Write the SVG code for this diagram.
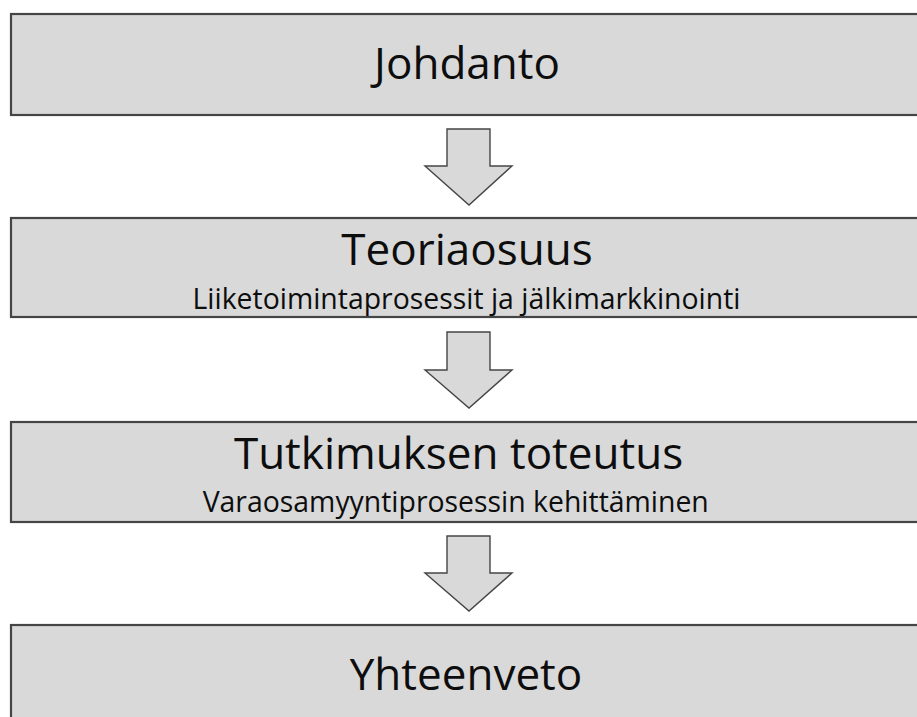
<svg xmlns="http://www.w3.org/2000/svg" width="917" height="717" viewBox="0 0 917 717">
  <style>
    .box { fill: #d9d9d9; stroke: #454545; stroke-width: 2.2; }
    .arrow { fill: #d9d9d9; stroke: #454545; stroke-width: 1.4; stroke-linejoin: miter; }
    .title { font-family: "Open Sans", "Noto Sans", sans-serif; font-size: 44px; fill: #0d0d0d; text-anchor: middle; }
    .sub { font-family: "Open Sans", "Noto Sans", sans-serif; font-size: 28.4px; fill: #0d0d0d; text-anchor: middle; }
  </style>
  <rect width="917" height="717" fill="#ffffff"/>

  <g id="johdanto">
    <rect class="box" x="11" y="14" width="912" height="101"/>
    <text class="title" x="467" y="79">Johdanto</text>
  </g>

  <g id="teoriaosuus">
    <rect class="box" x="11" y="218" width="912" height="99"/>
    <text class="title" x="467" y="265">Teoriaosuus</text>
    <text class="sub" x="466.5" y="309">Liiketoimintaprosessit ja jälkimarkkinointi</text>
  </g>

  <g id="tutkimus">
    <rect class="box" x="11" y="422" width="912" height="100"/>
    <text class="title" x="458.5" y="469">Tutkimuksen toteutus</text>
    <text class="sub" x="455.7" y="512">Varaosamyyntiprosessin kehittäminen</text>
  </g>

  <g id="yhteenveto">
    <rect class="box" x="11" y="625" width="912" height="110"/>
    <text class="title" x="466" y="690">Yhteenveto</text>
  </g>

  <g id="connectors">
    <path class="arrow" d="M447,129 H490 V166 H512 L469,205 L425,166 H447 Z"/>
    <path class="arrow" d="M447,332 H490 V370 H512 L469,408 L425,370 H447 Z"/>
    <path class="arrow" d="M447,536 H490 V573 H512 L469,611 L425,573 H447 Z"/>
  </g>
</svg>
